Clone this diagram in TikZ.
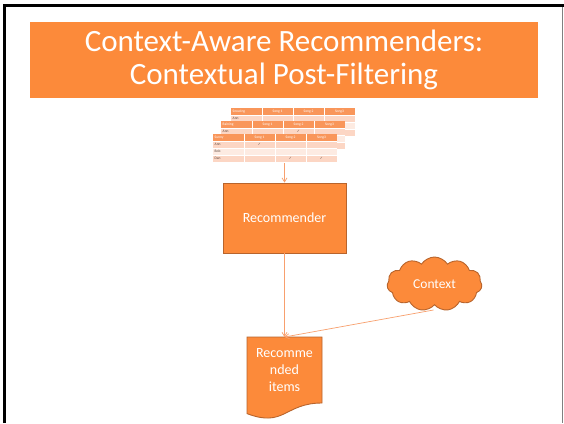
\documentclass[tikz,border=0pt]{standalone}
\usepackage{fontspec}
\setmainfont{Carlito}
\newfontfamily\symfont{DejaVu Sans}
\usetikzlibrary{shapes.symbols,arrows.meta,calc}
\definecolor{orfill}{RGB}{252,138,58}
\definecolor{ordraw}{RGB}{184,100,44}
\definecolor{connc}{RGB}{248,160,110}
\definecolor{tabhead}{RGB}{249,150,90}
\definecolor{rowdark}{RGB}{252,214,196}
\definecolor{rowlight}{RGB}{253,235,226}
\definecolor{tabtxt}{RGB}{90,70,60}
\tikzset{
  shapebox/.style={fill=orfill,draw=ordraw,line width=0.9pt,text=white,inner sep=0pt,font=\fontsize{14}{16.5}\selectfont},
  conn/.style={connc,line width=0.7pt,-{Straight Barb[length=4pt,width=5pt]}},
  tabtext/.style={font=\fontsize{3.6}{4}\selectfont,inner sep=0pt,text=tabtxt},
  tabhtext/.style={tabtext,text=white},
  chk/.style={font=\symfont\fontsize{3.6}{4}\selectfont,inner sep=0pt,text=tabtxt}
}
\newcommand\songtable[4]{%
  \begin{scope}[shift={(#1,#2)}]
    \fill[tabhead] (0,0) rectangle (124,7);
    \fill[rowdark] (0,7) rectangle (124,14);
    \fill[rowlight] (0,14) rectangle (124,21);
    \fill[rowdark] (0,21) rectangle (124,28);
    \draw[white,line width=0.4pt] (0,7)--(124,7) (0,14)--(124,14) (0,21)--(124,21)
      (31,0)--(31,28) (62,0)--(62,28) (93,0)--(93,28);
    \node[tabhtext,anchor=west] (#4h) at (1.5,3.5) {#3};
    \node[tabhtext] (#4s1) at (46.5,3.5) {Song 1};
    \node[tabhtext] (#4s2) at (77.5,3.5) {Song 2};
    \node[tabhtext] (#4s3) at (108.5,3.5) {Song3};
    \node[tabtext,anchor=west] (#4a) at (1.5,10.5) {Ann};
    \node[tabtext,anchor=west] (#4b) at (1.5,17.5) {Bob};
    \node[tabtext,anchor=west] (#4d) at (1.5,24.5) {Dan};
  \end{scope}}
\begin{document}
\begin{tikzpicture}[x=1pt,y=-1pt]
\useasboundingbox (0,0) rectangle (564,423);
\fill[white] (0,0) rectangle (564,423);
% frame
\draw[black,line width=3pt] (4.5,423) -- (4.5,5.5) -- (564,5.5);
\draw[gray,line width=1pt] (562.7,7) -- (562.7,423);
% title
\node[fill=orfill,minimum width=508,minimum height=76,inner sep=0pt,text=white,align=center,
  font=\fontsize{31}{33}\selectfont] (title) at (284,60)
  {Context-Aware Recommenders:\\Contextual Post-Filtering};
% tables
\songtable{231}{108}{Snowing}{ta}
\songtable{221}{121}{Raining}{tb}
\songtable{213}{134}{Sunny}{tc}
\node[chk] (c1) at (298.5,131.5) {✓};
\node[chk] (c2) at (259.5,144.5) {✓};
\node[chk] (c3) at (290.5,158.5) {✓};
\node[chk] (c4) at (321.5,158.5) {✓};
\coordinate (tables) at (284.5,163);
% recommender
\node[shapebox,minimum width=123,minimum height=70] (rec) at (284.5,218) {Recommender};
% context cloud
\node[shapebox,cloud,cloud puffs=11,cloud puff arc=115,aspect=1.8,
  minimum width=95,minimum height=54,font=\fontsize{13.5}{16}\selectfont] (ctx) at (434.5,284) {Context};
\coordinate (ctxb) at ($(ctx.center)+(-1,26)$);
% document
\fill[orfill] (247,337) -- (322,337) -- (322,403)
  .. controls (284.5,403) and (284.5,428) .. (247,413.6) -- cycle;
\draw[ordraw,line width=0.9pt] (247,337) -- (322,337) -- (322,403)
  .. controls (284.5,403) and (284.5,428) .. (247,413.6) -- cycle;
\node[inner sep=0pt,minimum width=75,minimum height=66,anchor=north,text=white,align=center,
  font=\fontsize{14}{16.7}\selectfont] (items) at (284.5,337) {Recomme\\nded\\items};
% connectors
\draw[conn] (tables) -- (rec.north);
\draw[conn] (rec.south) -- (items.north);
\draw[conn] (ctxb) -- (items.north);
\end{tikzpicture}
\end{document}
